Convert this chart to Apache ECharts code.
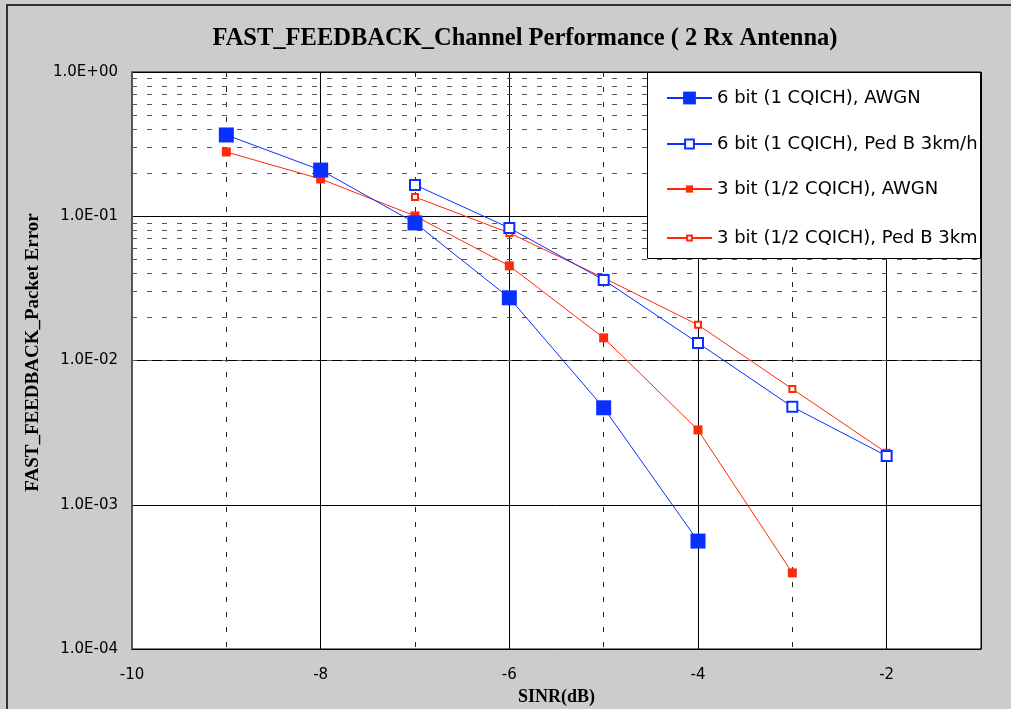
<!DOCTYPE html>
<html>
<head>
<meta charset="utf-8">
<script src="https://cdn.jsdelivr.net/npm/echarts@6/dist/echarts.min.js"></script>
<style>
html,body{margin:0;padding:0;background:#cccccc;overflow:hidden;}
#chart{width:1011px;height:709px;}
</style>
</head>
<body>
<div id="chart"></div>
<script>
// ---- data ----
const titleText = 'FAST_FEEDBACK_Channel Performance ( 2 Rx Antenna)';
const xName = 'SINR(dB)';
const yName = 'FAST_FEEDBACK_Packet Error';
const seriesNames = [
  '6 bit (1 CQICH), AWGN',
  '6 bit (1 CQICH), Ped B 3km/h',
  '3 bit (1/2 CQICH), AWGN',
  '3 bit (1/2 CQICH), Ped B 3km/h'
];
const x6Awgn = [-9, -8, -7, -6, -5, -4];
const y6Awgn = [0.366, 0.209, 0.0899, 0.0272, 0.0047, 0.00056];
const x6PedB = [-7, -6, -5, -4, -3, -2];
const y6PedB = [0.165, 0.083, 0.0362, 0.01324, 0.00477, 0.00218];
const x3Awgn = [-9, -8, -7, -6, -5, -4, -3];
const y3Awgn = [0.279, 0.1813, 0.1005, 0.0453, 0.01435, 0.0033, 0.000337];
const x3PedB = [-7, -6, -5, -4, -3, -2];
const y3PedB = [0.136, 0.0766, 0.0374, 0.01766, 0.00635, 0.00229];
const yTickLabels = {'1': '1.0E+00', '0.1': '1.0E-01', '0.01': '1.0E-02', '0.001': '1.0E-03', '0.0001': '1.0E-04'};
const decades = [1e-4, 1e-3, 1e-2, 1e-1];
const minorMultipliers = [2, 3, 4, 5, 6, 7, 8, 9];

// ---- build ----
const pair = (xs, ys) => xs.map((x, i) => [x, ys[i]]);
const minorY = [];
decades.forEach(d => minorMultipliers.forEach(m => minorY.push({yAxis: +(d * m).toPrecision(3)})));

const BLUE = '#0a30ff';
const RED = '#ff2a08';

const styles = [
  {color: BLUE, symbol: 'rect', size: 15, legendH: 16},
  {color: BLUE, symbol: 'emptyRect', size: 10, legendH: 11},
  {color: RED, symbol: 'rect', size: 9, legendH: 9},
  {color: RED, symbol: 'emptyRect', size: 6, legendH: 6}
];
const datas = [pair(x6Awgn, y6Awgn), pair(x6PedB, y6PedB), pair(x3Awgn, y3Awgn), pair(x3PedB, y3PedB)];

const series = [{
  type: 'line', name: '_grid', data: [], silent: true, z: 1,
  markLine: {
    silent: true, symbol: ['none', 'none'], animation: false,
    label: {show: false},
    lineStyle: {color: '#555', width: 1, type: [5, 10]},
    emphasis: {disabled: true},
    data: minorY
  }
}];
seriesNames.forEach((n, i) => {
  series.push({
    type: 'line', name: n, data: datas[i],
    symbol: styles[i].symbol, symbolSize: styles[i].size,
    lineStyle: {color: styles[i].color, width: 1},
    itemStyle: {color: styles[i].color, borderWidth: 1.5},
    z: 5 + (3 - i), animation: false
  });
});

const legendTops = [98, 144, 189, 238];
const legends = seriesNames.map((n, i) => ({
  data: [n], left: 666, top: legendTops[i] - 11, padding: 0,
  itemWidth: 45, itemHeight: styles[i].legendH,
  selectedMode: false, z: 101,
  textStyle: {fontFamily: 'DejaVu Sans', fontSize: 18, color: '#000', width: 264, overflow: 'truncate', ellipsis: '', lineHeight: 22}
}));

const option = {
  backgroundColor: '#cccccc',
  animation: false,
  title: {
    text: titleText, left: 520, top: 21, textAlign: 'center',
    textStyle: {fontFamily: 'Liberation Serif', fontWeight: 'bold', fontSize: 24.5, color: '#000'}
  },
  legend: legends,
  grid: {left: 132, top: 72, width: 849, height: 577, outerBoundsMode: 'none', containLabel: false,
    show: true, backgroundColor: '#fff', borderColor: '#000', borderWidth: 1},
  xAxis: {
    type: 'value', min: -10, max: -1, interval: 2,
    name: xName, nameLocation: 'middle', nameGap: 37,
    nameTextStyle: {fontFamily: 'Liberation Serif', fontWeight: 'bold', fontSize: 18, color: '#000'},
    axisLine: {show: true, lineStyle: {color: '#000'}},
    axisTick: {show: false},
    axisLabel: {fontFamily: 'DejaVu Sans', fontSize: 15, color: '#000', margin: 19,
      formatter: v => (v === -1 ? '' : String(v))},
    splitLine: {show: true, lineStyle: {color: '#000', width: 1}},
    minorTick: {show: false, splitNumber: 2},
    minorSplitLine: {show: true, lineStyle: {color: '#222', width: 1, type: [5, 10]}}
  },
  yAxis: {
    type: 'log', logBase: 10, min: 1e-4, max: 1,
    name: yName, nameLocation: 'middle', nameGap: 84, nameRotate: 90,
    nameTextStyle: {fontFamily: 'Liberation Serif', fontWeight: 'bold', fontSize: 19, color: '#000', padding: [0, 0, 0, 16]},
    axisLine: {show: true, lineStyle: {color: '#555', width: 2}},
    axisTick: {show: false},
    axisLabel: {fontFamily: 'DejaVu Sans', fontSize: 15, color: '#000', margin: 14,
      formatter: v => yTickLabels[String(+v.toPrecision(3))] || ''},
    splitLine: {show: true, lineStyle: {color: '#000', width: 1}}
  },
  graphic: [
    {type: 'rect', z: -10, silent: true, shape: {x: 7, y: 5, width: 1200, height: 900},
      style: {fill: 'none', stroke: '#333', lineWidth: 2}},
    {type: 'rect', z: 100, silent: true, shape: {x: 647.5, y: 72.5, width: 333, height: 186},
      style: {fill: '#fff', stroke: '#000', lineWidth: 1}}
  ],
  series: series
};

const chart = echarts.init(document.getElementById('chart'), null, {renderer: 'canvas'});
chart.setOption(option);
</script>
</body>
</html>
